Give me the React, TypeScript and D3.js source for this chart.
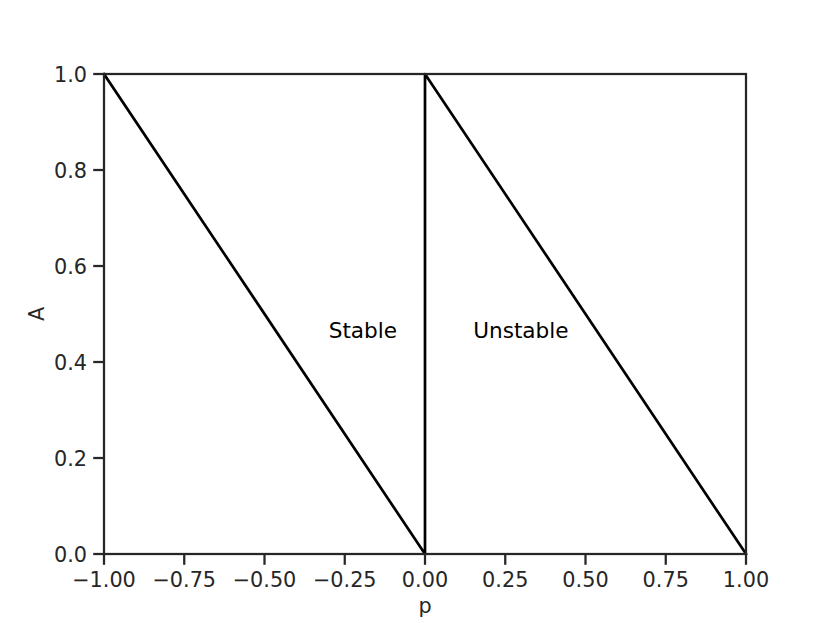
import React from "react";
import * as d3 from "d3";

const curveP = [-1, 0, 0, 1];
const curveA = [1, 0, 1, 0];
const xTicks = [-1, -0.75, -0.5, -0.25, 0, 0.25, 0.5, 0.75, 1];
const yTicks = [0, 0.2, 0.4, 0.6, 0.8, 1];
const notes = [
  { label: "Stable", p: -0.3, a: 0.45 },
  { label: "Unstable", p: 0.15, a: 0.45 },
];

const W = 830, H = 623;
const L = 104, R = 746, T = 74, B = 554;
const AX = "#262626";
const FONT = "DejaVu Sans, sans-serif";
const FS = 20.8;

export default function App() {
  const x = d3.scaleLinear().domain([-1, 1]).range([L, R]);
  const y = d3.scaleLinear().domain([0, 1]).range([B, T]);
  const pts = curveP.map((p, i) => [p, curveA[i]] as [number, number]);
  const line = d3.line<[number, number]>().x(d => x(d[0])).y(d => y(d[1]));
  const fmtX = (v: number) => d3.format(".2f")(v).replace("-", "\u2212");
  const fmtY = (v: number) => d3.format(".1f")(v);
  const tick = 10.8;
  return (
    <svg width={W} height={H} style={{ position: "absolute", left: 0, top: 0, display: "block", background: "#fff" }} fontFamily={FONT}>
      <rect x={0} y={0} width={W} height={H} fill="#fff" />
      <path d={line(pts) || ""} fill="none" stroke="#000" strokeWidth={2.7} strokeLinejoin="round" strokeLinecap="square" />
      <rect x={L} y={T} width={R - L} height={B - T} fill="none" stroke={AX} strokeWidth={2.25} strokeLinecap="square" />
      {xTicks.map(v => (
        <g key={"x" + v}>
          <line x1={x(v)} x2={x(v)} y1={B} y2={B + tick} stroke={AX} strokeWidth={2.25} />
          <text x={x(v)} y={586.5} textAnchor="middle" fontSize={FS} fill={AX}>{fmtX(v)}</text>
        </g>
      ))}
      {yTicks.map(v => (
        <g key={"y" + v}>
          <line x1={L - tick} x2={L} y1={y(v)} y2={y(v)} stroke={AX} strokeWidth={2.25} />
          <text x={87} y={y(v) + 8.3} textAnchor="end" fontSize={FS} fill={AX}>{fmtY(v)}</text>
        </g>
      ))}
      {notes.map(n => (
        <text key={n.label} x={x(n.p)} y={y(n.a)} fontSize={21.6} fill="#000">{n.label}</text>
      ))}
      <text x={(L + R) / 2} y={613} textAnchor="middle" fontSize={FS} fill={AX}>p</text>
      <text transform={`translate(44, ${(T + B) / 2}) rotate(-90)`} textAnchor="middle" fontSize={FS} fill={AX}>A</text>
    </svg>
  );
}
